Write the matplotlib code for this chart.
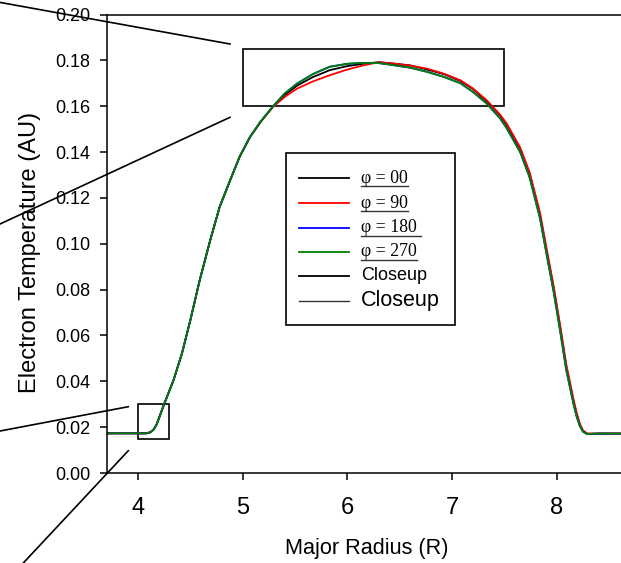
import matplotlib

matplotlib.use("Agg")
import matplotlib.pyplot as plt
from matplotlib.lines import Line2D
from matplotlib.patches import Rectangle

plt.rcParams["font.family"] = ["Liberation Sans", "DejaVu Sans"]

# major radius sample points
radius = [3.70, 4.00, 4.08, 4.12, 4.15, 4.18, 4.24, 4.34, 4.42, 4.50, 4.59,
          4.69, 4.78, 4.88, 4.97, 5.07, 5.17, 5.29, 5.40, 5.52, 5.67, 5.83,
          6.00, 6.15, 6.30, 6.44, 6.60, 6.76, 6.92, 7.08, 7.20, 7.33, 7.46,
          7.52, 7.65, 7.74, 7.84, 7.90, 7.97, 8.03, 8.09, 8.16, 8.19, 8.22,
          8.25, 8.29, 8.40, 8.62]

te_phi00 = [0.0173, 0.0173, 0.0173, 0.0178, 0.0190, 0.0214, 0.0289, 0.0406,
            0.0522, 0.0667, 0.0842, 0.1016, 0.1161, 0.1277, 0.1379, 0.1466,
            0.1532, 0.1599, 0.1648, 0.1690, 0.1727, 0.1757, 0.1775, 0.1785,
            0.1792, 0.1786, 0.1778, 0.1760, 0.1740, 0.1710, 0.1675, 0.1622,
            0.1560, 0.1520, 0.1415, 0.1305, 0.1125, 0.0975, 0.0805, 0.0640,
            0.0465, 0.0312, 0.0255, 0.0210, 0.0183, 0.0171, 0.0172, 0.0172]
te_phi90 = [0.0173, 0.0173, 0.0173, 0.0178, 0.0190, 0.0214, 0.0289, 0.0406,
            0.0522, 0.0667, 0.0842, 0.1016, 0.1161, 0.1277, 0.1379, 0.1466,
            0.1530, 0.1597, 0.1640, 0.1677, 0.1708, 0.1735, 0.1760, 0.1778,
            0.1792, 0.1786, 0.1777, 0.1764, 0.1742, 0.1713, 0.1677, 0.1626,
            0.1562, 0.1525, 0.1420, 0.1312, 0.1135, 0.0985, 0.0815, 0.0650,
            0.0475, 0.0320, 0.0262, 0.0215, 0.0186, 0.0172, 0.0172, 0.0172]
te_phi180 = [0.0173, 0.0173, 0.0173, 0.0178, 0.0190, 0.0214, 0.0289, 0.0406,
             0.0522, 0.0667, 0.0842, 0.1016, 0.1161, 0.1277, 0.1379, 0.1466,
             0.1532, 0.1600, 0.1655, 0.1699, 0.1740, 0.1772, 0.1785, 0.1789,
             0.1788, 0.1779, 0.1768, 0.1750, 0.1728, 0.1700, 0.1662, 0.1612,
             0.1546, 0.1505, 0.1400, 0.1290, 0.1110, 0.0960, 0.0790, 0.0625,
             0.0450, 0.0300, 0.0245, 0.0205, 0.0180, 0.0170, 0.0172, 0.0172]
te_phi270 = list(te_phi180)

series_labels = ["\u03c6 = 00", "\u03c6 = 90", "\u03c6 = 180 ", "\u03c6 = 270"]
series_colors = ["black", "#ff0000", "#0000ff", "#008000"]

# closeup regions (R0, R1, T0, T1)
closeup_boxes = [(5.0, 7.5, 0.160, 0.185), (4.0, 4.3, 0.015, 0.030)]

W, H = 621, 563
fig = plt.figure(figsize=(W / 100, H / 100), dpi=100)


def fx(px):
    return px / W


def fy(py):
    return 1 - py / H


ax = fig.add_axes([fx(106.7), fy(473), 1 - fx(106.7), fy(14.5) - fy(473)])

for vals, col in zip([te_phi00, te_phi90, te_phi180, te_phi270], series_colors):
    ax.plot(radius, vals, color=col, lw=1.3)

for r0, r1, t0, t1 in closeup_boxes:
    ax.add_patch(Rectangle((r0, t0), r1 - r0, t1 - t0, fill=False, ec="black", lw=1.2))

ax.set_xlim(3.701, 8.613)
ax.set_ylim(0, 0.2)
ax.set_xticks([4, 5, 6, 7, 8])
ax.set_yticks([0.0, 0.02, 0.04, 0.06, 0.08, 0.10, 0.12, 0.14, 0.16, 0.18, 0.20])
ax.set_yticklabels([f"{v:.2f}" for v in ax.get_yticks()])
ax.spines["right"].set_visible(False)
for s in ["left", "bottom", "top"]:
    ax.spines[s].set_linewidth(1.1)
ax.tick_params(axis="y", length=5, width=1.1, pad=7, labelsize=13)
ax.tick_params(axis="x", length=5, width=1.1, pad=12.5, labelsize=17)

ax.set_xlabel("Major Radius (R)", fontsize=15.6)
ax.set_ylabel("Electron Temperature (AU)", fontsize=17)
ax.xaxis.set_label_coords(0.505, -0.141)
ax.yaxis.set_label_coords(-0.127, 0.48)

# connector lines towards the (cropped) closeup panels
connectors = [((0, 2.4), (230, 44)), ((0, 224), (230, 117.3)),
              ((0, 431), (128.3, 406.7)), ((23.3, 563), (128.3, 450.7))]
for (x0, y0), (x1, y1) in connectors:
    fig.add_artist(Line2D([fx(x0), fx(x1)], [fy(y0), fy(y1)], color="black",
                          lw=1.2, transform=fig.transFigure))

# manual legend box
fig.add_artist(Rectangle((fx(286), fy(325)), fx(455) - fx(286), fy(153) - fy(325),
                         fill=False, ec="black", lw=1.2, transform=fig.transFigure))
rows = [178.3, 203.3, 228, 252, 275.5, 300.5]
handle_colors = series_colors + ["black", "#333333"]
handle_widths = [1.3, 1.3, 1.3, 1.3, 1.3, 1.0]
texts = []
for i, row in enumerate(rows):
    fig.add_artist(Line2D([fx(299), fx(349)], [fy(row), fy(row)], color=handle_colors[i],
                          lw=handle_widths[i], transform=fig.transFigure))
    if i < 4:
        t = fig.text(fx(361), fy(row), series_labels[i], family=["Liberation Serif"],
                     fontsize=12.8, va="center", ha="left")
        texts.append(t)
    elif i == 4:
        fig.text(fx(361), fy(row), "Closeup", fontsize=13, va="center", ha="left")
    else:
        fig.text(fx(361), fy(row), "Closeup", fontsize=15.5, va="center", ha="left")

# underline the phi labels
fig.canvas.draw()
renderer = fig.canvas.get_renderer()
for t in texts:
    bb = t.get_window_extent(renderer)
    fig.add_artist(Line2D([bb.x0 / W, bb.x1 / W], [(bb.y0 + 0.5) / H] * 2,
                          color="#333333", lw=1.0, transform=fig.transFigure))

fig.savefig("out.png", dpi=100)
